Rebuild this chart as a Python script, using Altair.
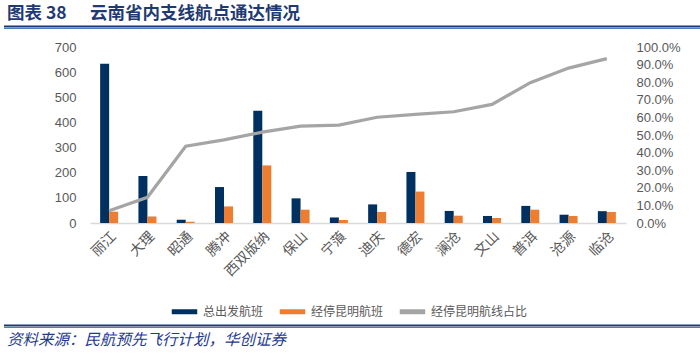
import altair as alt
import pandas as pd

cities = ["丽江", "大理", "昭通", "腾冲", "西双版纳", "保山", "宁蒗", "迪庆", "德宏", "澜沧", "文山", "普洱", "沧源", "临沧"]
total_flights = [633, 187, 13, 143, 446, 98, 22, 74, 203, 48, 28, 68, 33, 47]
kunming_flights = [45, 26, 5, 66, 229, 53, 12, 44, 125, 29, 20, 53, 28, 44]
kunming_ratio = [0.07, 0.146, 0.436, 0.472, 0.516, 0.55, 0.556, 0.601, 0.617, 0.632, 0.674, 0.797, 0.88, 0.934]

series_names = ["总出发航班", "经停昆明航班", "经停昆明航线占比"]
series_colors = ["#00305F", "#ED7D31", "#A5A5A5"]

title_label = "图表 38"
title_text = "云南省内支线航点通达情况"
source_text = "资料来源：民航预先飞行计划，华创证券"

bar_rows = []
for c, t, k in zip(cities, total_flights, kunming_flights):
    bar_rows.append({"city": c, "series": series_names[0], "value": t})
    bar_rows.append({"city": c, "series": series_names[1], "value": k})
bar_df = pd.DataFrame(bar_rows)
line_df = pd.DataFrame({"city": cities, "ratio": kunming_ratio, "series": series_names[2]})

label_font = "Liberation Sans"
cjk_font = "Noto Sans CJK SC"

color = alt.Color(
    "series:N",
    scale=alt.Scale(domain=series_names, range=series_colors),
    legend=alt.Legend(
        title=None, orient="none", direction="horizontal",
        legendX=79, legendY=249,
        symbolType="stroke", symbolSize=650, symbolStrokeWidth=5,
        labelFont=cjk_font, labelFontSize=12, labelColor="#595959",
        columnPadding=5, labelOffset=3,
    ),
)

x_enc = alt.X(
    "city:N", sort=cities, title=None,
    scale=alt.Scale(paddingInner=0.53, paddingOuter=0.265),
    axis=alt.Axis(labelAngle=-45, labelAlign="right", labelBaseline="top",
                  labelFont=cjk_font, labelFontSize=14, labelColor="#595959",
                  labelPadding=6, ticks=False, domainColor="#D9D9D9", domainWidth=1.5),
)

bars = alt.Chart(bar_df).mark_bar().encode(
    x=x_enc,
    xOffset=alt.XOffset("series:N", sort=series_names[:2], scale=alt.Scale(paddingInner=0)),
    y=alt.Y("value:Q", title=None,
            scale=alt.Scale(domain=[0, 700]),
            axis=alt.Axis(orient="left", values=[0, 100, 200, 300, 400, 500, 600, 700],
                          grid=False, ticks=False, domain=False,
                          labelFont=label_font, labelFontSize=13, labelColor="#595959",
                          labelPadding=14)),
    color=color,
)

line = alt.Chart(line_df).mark_line(strokeWidth=3.2).encode(
    x=alt.X("city:N", sort=cities),
    y=alt.Y("ratio:Q", title=None,
            scale=alt.Scale(domain=[0, 1]),
            axis=alt.Axis(orient="right", values=[i / 10 for i in range(11)], format=".1%",
                          grid=False, ticks=False, domain=False,
                          labelFont=label_font, labelFontSize=13, labelColor="#595959",
                          labelPadding=10)),
    color=alt.Color("series:N"),
)

one = pd.DataFrame({"a": [0]})
def rule(y, color_, width):
    return alt.Chart(one).mark_rule(color=color_, strokeWidth=width).encode(
        x=alt.value(-86), x2=alt.value(612), y=alt.value(y))

def text_mark(s, x, y, size, color_, **kw):
    return alt.Chart(pd.DataFrame({"t": [s]})).mark_text(
        align="left", baseline="middle", font=cjk_font, fontSize=size, color=color_, **kw
    ).encode(text="t:N", x=alt.value(x), y=alt.value(y))

chart = alt.layer(
    bars, line,
    rule(-20.5, "#1F3A73", 2), rule(-18.5, "#4F7FC0", 1.2),
    rule(278.5, "#1F3A73", 2), rule(280.5, "#4F7FC0", 1.2),
    text_mark(title_label, -83, -33, 17.5, "#1F3A73", fontWeight="bold"),
    text_mark(title_text, 0, -33, 17.5, "#1F3A73", fontWeight="bold"),
    text_mark(source_text, -83, 293, 15.5, "#1F3A93", fontStyle="italic"),
).resolve_scale(y="independent").properties(
    width=536, height=176,
    autosize=alt.AutoSizeParams(type="none"),
    padding={"left": 90, "top": 47, "right": 74, "bottom": 133},
).configure_view(stroke=None)

chart.save("out.html", embed_options={"renderer": "svg", "actions": False})
